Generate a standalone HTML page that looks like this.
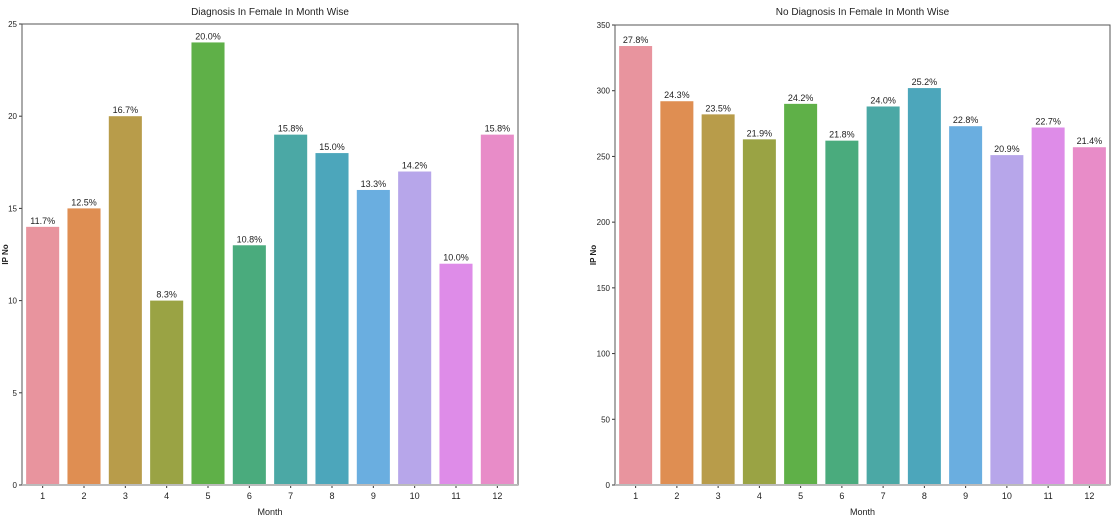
<!DOCTYPE html>
<html><head><meta charset="utf-8"><style>
body{margin:0;background:#fff;width:1115px;height:525px;overflow:hidden}
svg text{font-family:"Liberation Sans",sans-serif;fill:#222}
</style></head><body>
<svg id="s" width="1115" height="525"></svg>
<script>
const months=["1","2","3","4","5","6","7","8","9","10","11","12"];
const leftValues=[14,15,20,10,24,13,19,18,16,17,12,19];
const leftLabels=["11.7%","12.5%","16.7%","8.3%","20.0%","10.8%","15.8%","15.0%","13.3%","14.2%","10.0%","15.8%"];
const leftTicks=[0,5,10,15,20,25];
const rightValues=[334,292,282,263,290,262,288,302,273,251,272,257];
const rightLabels=["27.8%","24.3%","23.5%","21.9%","24.2%","21.8%","24.0%","25.2%","22.8%","20.9%","22.7%","21.4%"];
const rightTicks=[0,50,100,150,200,250,300,350];
const colors=["#e8949e","#df8e52","#b89c4a","#9aa344","#5fb048","#4aab7d","#4ba8a5","#4ca6bb","#6aaee0","#b7a6ea","#de8ce8","#e88cc8"];
const NS="http://www.w3.org/2000/svg",svg=document.getElementById('s');
function el(t,a,p){const e=document.createElementNS(NS,t);for(const k in a)e.setAttribute(k,a[k]);(p||svg).appendChild(e);return e;}
function chart(px,x0,x1,yTop,yBot,vmax,vals,labels,ticks,title,ylx){
  const g=el('g',{});
  
  
  const y=v=>yBot-(v/vmax)*(yBot-yTop);
  const step=(x1-x0)/months.length;
  const t=el('text',{x:(x0+x1)/2,y:15,'text-anchor':'middle','font-size':10},g);t.textContent=title;
  
  
  vals.forEach((v,i)=>{
    const bx=x0+step*i+step*0.1;
    const r=el('rect',{x:bx,y:y(v),width:step*0.8,height:yBot-y(v),fill:colors[i]},g);
    
    
    const l=el('text',{x:bx+step*0.4,y:y(v)-3,'text-anchor':'middle','font-size':9},g);l.textContent=labels[i];
    
    
    el('line',{x1:bx+step*0.4,x2:bx+step*0.4,y1:yBot,y2:yBot+3,stroke:'#333'},g);
    const xt=el('text',{x:bx+step*0.4,y:yBot+14,'text-anchor':'middle','font-size':9},g);xt.textContent=months[i];
    
    
  });
  ticks.forEach(v=>{
    el('line',{x1:x0-3,x2:x0,y1:y(v),y2:y(v),stroke:'#333'},g);
    const tt=el('text',{x:x0-5,y:y(v)+3,'text-anchor':'end','font-size':8},g);tt.textContent=v;
    
    
  });
  el('rect',{x:x0,y:yTop,width:x1-x0,height:yBot-yTop,fill:'none',stroke:'#555','stroke-width':1},g);
  el('line',{x1:x0,x2:x1,y1:yBot,y2:yBot,stroke:'#bbb','stroke-width':2},g);
  const xl=el('text',{x:(x0+x1)/2,y:yBot+30,'text-anchor':'middle','font-size':9},g);xl.textContent='Month';
  
  
  const yl=el('text',{x:0,y:0,'text-anchor':'middle','font-size':8,'font-weight':'bold',transform:`translate(${ylx},${(yTop+yBot)/2}) rotate(-90)`},g);yl.textContent='IP No';
  
  
}
chart('left',22,518,24,485,25,leftValues,leftLabels,leftTicks,'Diagnosis In  Female In Month Wise',8);
chart('right',615,1110,25,485,350,rightValues,rightLabels,rightTicks,'No Diagnosis In Female In Month Wise',596);
</script></body></html>
